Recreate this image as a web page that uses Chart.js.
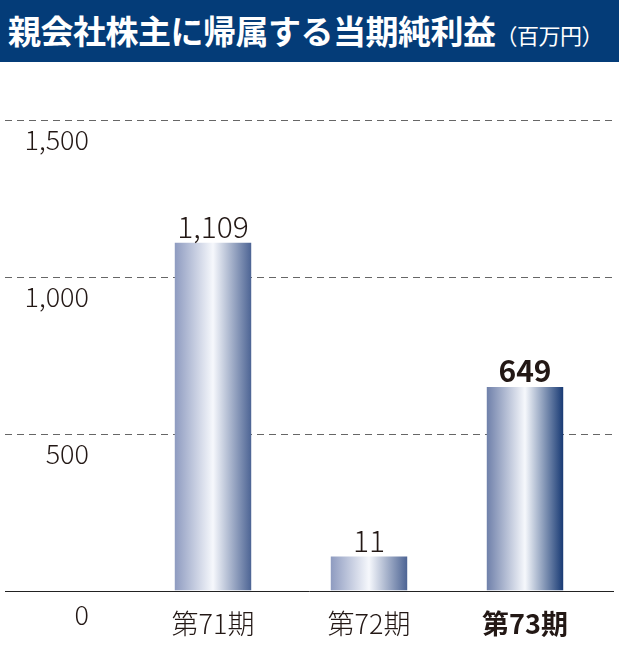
<!DOCTYPE html>
<html><head><meta charset="utf-8">
<script src="https://cdn.jsdelivr.net/npm/chart.js@4"></script>
<style>
  body { margin: 0; background: #fff; width: 619px; height: 649px; overflow: hidden; }
  #title { height: 62px; background: #043c78; color: #fff; font-family: 'Noto Sans CJK JP', sans-serif;
           font-weight: bold; font-size: 33px; line-height: 60px; padding-left: 8px; white-space: nowrap; letter-spacing: -0.5px; }
  #title small { font-size: 22px; font-weight: normal; }
  #wrap { position: relative; width: 619px; height: 587px; }
</style></head>
<body>
<div id="title">親会社株主に帰属する当期純利益<small>（百万円）</small></div>
<div id="wrap"><canvas id="c"></canvas></div>
<script>
var CATEGORIES = ['第71期', '第72期', '第73期'];
var VALUES = [1109, 11, 649];
var VALUE_LABELS = ['1,109', '11', '649'];
var Y_TICKS = [0, 500, 1000, 1500];
var Y_TICK_LABELS = ['0', '500', '1,000', '1,500'];

var FONT = "'Noto Sans CJK JP', 'Noto Sans', sans-serif";

function barFill(ctx) {
  var chart = ctx.chart;
  var xs = chart.scales.x;
  if (!xs || !chart.chartArea) return '#8e9bc0';
  var cx = xs.getPixelForValue(ctx.dataIndex);
  var w = (xs.width / CATEGORIES.length) * 0.49;
  var g = chart.ctx.createLinearGradient(cx - w / 2, 0, cx + w / 2, 0);
  var dark = ctx.dataIndex === 2;
  g.addColorStop(0, dark ? '#6f80aa' : '#8e9bc0');
  g.addColorStop(0.5, '#f6f8fc');
  g.addColorStop(1, dark ? '#183a74' : '#4d6494');
  return g;
}

var overlay = {
  id: 'overlay',
  beforeDatasetsDraw: function(chart) {
    var c = chart.ctx, ys = chart.scales.y;
    c.save();
    c.lineWidth = 1;
    Y_TICKS.forEach(function(v) {
      var y = Math.round(ys.getPixelForValue(v)) + 0.5;
      c.setLineDash(v === 0 ? [] : [7, 5]);
      c.strokeStyle = v === 0 ? '#222' : '#666';
      c.beginPath(); c.moveTo(5, y); c.lineTo(614, y); c.stroke();
    });
    c.restore();
  },
  afterDatasetsDraw: function(chart) {
    var c = chart.ctx, ys = chart.scales.y;
    c.save();
    c.fillStyle = '#231815';
    c.font = '300 27px ' + FONT;
    c.textAlign = 'right';
    c.textBaseline = 'middle';
    Y_TICKS.forEach(function(v, i) {
      c.fillText(Y_TICK_LABELS[i], 89, ys.getPixelForValue(v) + (v === 0 ? 24 : 20));
    });
    c.textAlign = 'center';
    c.textBaseline = 'alphabetic';
    chart.getDatasetMeta(0).data.forEach(function(bar, i) {
      c.font = (i === 2 ? 'bold 30px ' : '300 30px ') + FONT;
      c.fillText(VALUE_LABELS[i], bar.x, bar.y - 5);
    });
    c.restore();
  }
};

new Chart(document.getElementById('c'), {
  type: 'bar',
  data: {
    labels: CATEGORIES,
    datasets: [{
      data: VALUES,
      backgroundColor: barFill,
      borderWidth: 0,
      minBarLength: 34,
      categoryPercentage: 1,
      barPercentage: 0.49
    }]
  },
  options: {
    responsive: true,
    maintainAspectRatio: false,
    animation: false,
    layout: { padding: { left: 135, right: 16, top: 8, bottom: 0 } },
    plugins: { legend: { display: false }, tooltip: { enabled: false } },
    scales: {
      x: {
        grid: { display: false },
        border: { display: false },
        ticks: {
          color: '#231815',
          padding: 9,
          font: function(ctx) {
            return { family: FONT, size: 27, weight: ctx.index === 2 ? 'bold' : '300' };
          }
        }
      },
      y: {
        display: false,
        min: 0,
        max: 1660
      }
    }
  },
  plugins: [overlay]
});
</script>
</body></html>
